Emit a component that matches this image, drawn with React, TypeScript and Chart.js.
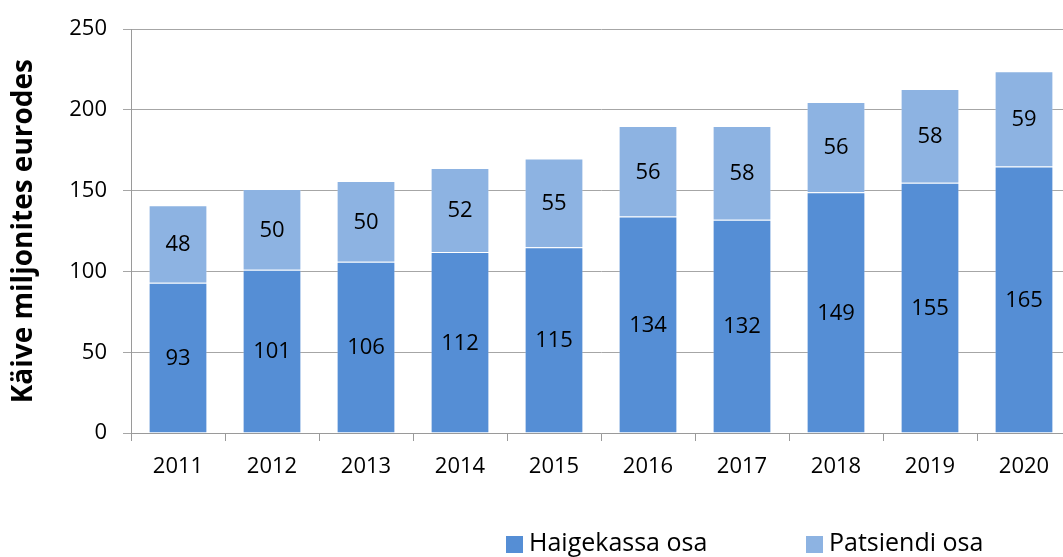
import React, { useEffect, useRef } from "react";
import { Chart, registerables } from "chart.js";

Chart.register(...registerables);

const years = ["2011", "2012", "2013", "2014", "2015", "2016", "2017", "2018", "2019", "2020"];
const haigekassa = [93, 101, 106, 112, 115, 134, 132, 149, 155, 165];
const patsient = [48, 50, 50, 52, 55, 56, 58, 56, 58, 59];
const seriesNames = ["Haigekassa osa", "Patsiendi osa"];
const seriesColors = ["#558ED5", "#8DB3E2"];
const yTitle = "Käive miljonites eurodes";

const FONT = "'Open Sans', 'Noto Sans', sans-serif";

const labelPlugin = {
  id: "barLabels",
  afterDatasetsDraw(chart: any) {
    const ctx = chart.ctx;
    ctx.save();
    ctx.fillStyle = "#000";
    ctx.font = `22px ${FONT}`;
    ctx.textAlign = "center";
    ctx.textBaseline = "middle";
    chart.data.datasets.forEach((ds: any, di: number) => {
      const meta = chart.getDatasetMeta(di);
      meta.data.forEach((bar: any, i: number) => {
        const props = bar.getProps(["x", "y", "base"], true);
        const cy = (props.y + props.base) / 2;
        ctx.fillText(String(ds.data[i]), props.x, cy + 1);
      });
    });
    ctx.restore();
  },
};

const legendPlugin = {
  id: "customLegend",
  afterDraw(chart: any) {
    const ctx = chart.ctx;
    ctx.save();
    ctx.font = `25px ${FONT}`;
    ctx.textBaseline = "middle";
    ctx.textAlign = "left";
    const starts = [506, 806];
    const cy = 544;
    seriesNames.forEach((name, i) => {
      ctx.fillStyle = seriesColors[i];
      ctx.fillRect(starts[i], cy - 8, 17, 17);
      ctx.fillStyle = "#000";
      ctx.fillText(name, starts[i] + 23, cy);
    });
    ctx.restore();
  },
};

export default function App() {
  const ref = useRef<HTMLCanvasElement>(null);
  useEffect(() => {
    if (!ref.current) return;
    const chart = new Chart(ref.current, {
      type: "bar",
      data: {
        labels: years,
        datasets: [
          {
            label: seriesNames[0],
            data: haigekassa,
            backgroundColor: seriesColors[0],
            borderColor: "rgba(255,255,255,0.3)",
            borderWidth: 1,
            barPercentage: 0.625,
            categoryPercentage: 1,
          },
          {
            label: seriesNames[1],
            data: patsient,
            backgroundColor: seriesColors[1],
            borderColor: "rgba(255,255,255,0.3)",
            borderWidth: 1,
            barPercentage: 0.625,
            categoryPercentage: 1,
          },
        ],
      },
      options: {
        animation: false,
        responsive: false,
        maintainAspectRatio: false,
        layout: { padding: { top: 25, right: 0, left: 0, bottom: 0 } },
        plugins: {
          legend: { display: false },
          tooltip: { enabled: false },
        },
        scales: {
          x: {
            stacked: true,
            offset: true,
            grid: {
              offset: true,
              drawOnChartArea: false,
              drawTicks: true,
              tickLength: 8,
              color: "#9A9A9A",
            },
            border: { color: "#9A9A9A", width: 1 },
            ticks: { color: "#000", font: { family: FONT, size: 22 }, padding: 13 },
            afterFit(scale: any) {
              scale.height = 124;
            },
          },
          y: {
            stacked: true,
            min: 0,
            max: 250,
            ticks: {
              stepSize: 50,
              color: "#000",
              font: { family: FONT, size: 22 },
              padding: 16,
            },
            grid: { color: "#A6A6A6", tickLength: 8, lineWidth: 1 },
            border: { color: "#9A9A9A", width: 1 },
            title: {
              display: true,
              text: yTitle,
              color: "#000",
              font: { family: FONT, size: 28, weight: "bold" },
              padding: { top: 7, bottom: 0 },
            },
            afterFit(scale: any) {
              scale.width = 131;
            },
          },
        },
      },
      plugins: [labelPlugin, legendPlugin],
    });
    return () => chart.destroy();
  }, []);
  return (
    <div style={{ position: "fixed", left: 0, top: 0, width: 1063, height: 557, overflow: "hidden", background: "#fff" }}>
      <canvas ref={ref} width={1071} height={557} style={{ width: 1071, height: 557, display: "block" }} />
    </div>
  );
}
